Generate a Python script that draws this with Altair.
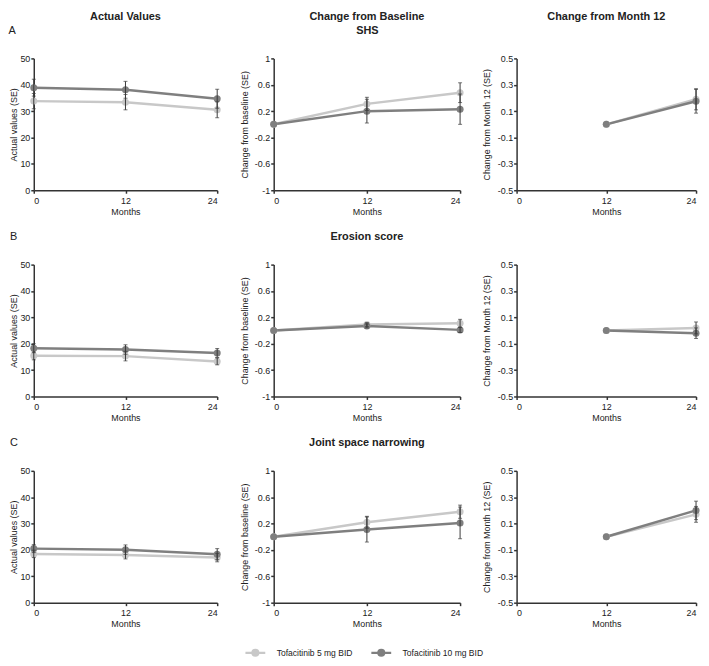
import altair as alt
import pandas as pd

# ---------------- data ----------------
months_all = [0, 12, 24]
months_m12 = [12, 24]
groups = ["Tofacitinib 5 mg BID", "Tofacitinib 10 mg BID"]
colors = ["#c8c8c8", "#7f7f7f"]

# SHS
shs_act_5 = [33.8, 33.4, 30.5]
shs_act_5_se = [2.9, 2.9, 3.0]
shs_act_10 = [38.9, 38.1, 34.7]
shs_act_10_se = [3.2, 3.2, 3.6]
shs_cfb_5 = [0.0, 0.31, 0.48]
shs_cfb_5_se = [0.0, 0.10, 0.15]
shs_cfb_10 = [0.0, 0.20, 0.23]
shs_cfb_10_se = [0.0, 0.18, 0.23]
shs_cfm_5 = [0.0, 0.19]
shs_cfm_5_se = [0.0, 0.08]
shs_cfm_10 = [0.0, 0.175]
shs_cfm_10_se = [0.0, 0.09]

# Erosion score
ero_act_5 = [15.4, 15.3, 13.3]
ero_act_5_se = [1.5, 1.8, 1.3]
ero_act_10 = [18.3, 17.8, 16.5]
ero_act_10_se = [1.7, 1.8, 1.7]
ero_cfb_5 = [0.0, 0.09, 0.11]
ero_cfb_5_se = [0.0, 0.03, 0.06]
ero_cfb_10 = [0.0, 0.07, 0.01]
ero_cfb_10_se = [0.0, 0.03, 0.04]
ero_cfm_5 = [0.0, 0.02]
ero_cfm_5_se = [0.0, 0.045]
ero_cfm_10 = [0.0, -0.02]
ero_cfm_10_se = [0.0, 0.04]

# Joint space narrowing
jsn_act_5 = [18.5, 18.1, 17.1]
jsn_act_5_se = [1.4, 1.5, 1.6]
jsn_act_10 = [20.5, 20.1, 18.4]
jsn_act_10_se = [1.5, 1.8, 2.1]
jsn_cfb_5 = [0.0, 0.22, 0.38]
jsn_cfb_5_se = [0.0, 0.09, 0.10]
jsn_cfb_10 = [0.0, 0.11, 0.21]
jsn_cfb_10_se = [0.0, 0.19, 0.24]
jsn_cfm_5 = [0.0, 0.17]
jsn_cfm_5_se = [0.0, 0.06]
jsn_cfm_10 = [0.0, 0.20]
jsn_cfm_10_se = [0.0, 0.07]

x_ticks = [0, 12, 24]
act_ticks = [0, 10, 20, 30, 40, 50]
cfb_ticks = [-1, -0.6, -0.2, 0.2, 0.6, 1]
cfm_ticks = [-0.5, -0.3, -0.1, 0.1, 0.3, 0.5]

# ---------------- style ----------------
FONT = "Liberation Sans"
ERR = "#3a3a3a"
TXT = "#222222"
W = [185, 188, 181]
H = 133
TITLE_PAD = [1, 5, 6]

LEGEND = alt.Legend(
    title=None,
    orient="none",
    legendX=212,
    legendY=588,
    direction="horizontal",
    padding=0,
    symbolType="M-1,0L1,0M-0.3,0A0.3,0.3,0,1,0,0.3,0A0.3,0.3,0,1,0,-0.3,0Z",
    symbolSize=400,
    symbolStrokeWidth=2.2,
    symbolOpacity=1,
    labelFont=FONT,
    labelFontSize=8.6,
    labelColor=TXT,
    labelOffset=10,
    columnPadding=14,
)


def make_df(xs, v5, s5, v10, s10):
    rows = []
    for g, vals, ses in ((groups[0], v5, s5), (groups[1], v10, s10)):
        for m, v, s in zip(xs, vals, ses):
            rows.append({"month": m, "value": v, "se": s,
                         "lo": v - s, "hi": v + s, "group": g})
    return pd.DataFrame(rows)


def panel(col, xs, v5, s5, v10, s10, ydom, yticks, ytitle,
          title=None, top_title=None, top_x=0, top_align="center"):
    df = make_df(xs, v5, s5, v10, s10)
    xscale = alt.Scale(domain=[0, 24], nice=False, zero=False)
    yscale = alt.Scale(domain=ydom, nice=False, zero=False)
    xaxis = alt.Axis(values=x_ticks, title="Months")
    yaxis = alt.Axis(values=yticks, title=ytitle,
                     labelExpr="'' + datum.value",
                     titlePadding=TITLE_PAD[col])
    color = alt.Color("group:N", scale=alt.Scale(domain=groups, range=colors),
                      legend=LEGEND)
    base = alt.Chart(df)
    line = base.mark_line(strokeWidth=2.5).encode(
        x=alt.X("month:Q", scale=xscale, axis=xaxis),
        y=alt.Y("value:Q", scale=yscale, axis=yaxis),
        color=color,
    )
    if top_title is not None:
        top_axis = alt.Axis(orient="top", domain=False, ticks=False, labels=False,
                            grid=False, title=top_title, titleX=top_x, titleY=-25,
                            titleAlign=top_align, titleBaseline="alphabetic",
                            titleAngle=0, titleFontSize=11,
                            titleFontWeight="normal" if top_align == "left" else "bold",
                            titleColor=TXT)
    else:
        top_axis = None
    pts = base.mark_point(filled=True, size=50, opacity=1).encode(
        x=alt.X("month:Q", scale=xscale, axis=top_axis),
        y=alt.Y("value:Q", scale=yscale, axis=yaxis),
        color=color,
    )
    eb = base.transform_filter("datum.se > 0")
    rule = eb.mark_rule(color=ERR, strokeWidth=1).encode(
        x=alt.X("month:Q", scale=xscale, axis=None),
        y=alt.Y("lo:Q", scale=yscale, axis=yaxis),
        y2="hi:Q",
    )
    cap_lo = eb.mark_tick(color=ERR, orient="horizontal", size=4, thickness=1).encode(
        x=alt.X("month:Q", scale=xscale, axis=None),
        y=alt.Y("lo:Q", scale=yscale, axis=yaxis),
    )
    cap_hi = eb.mark_tick(color=ERR, orient="horizontal", size=4, thickness=1).encode(
        x=alt.X("month:Q", scale=xscale, axis=None),
        y=alt.Y("hi:Q", scale=yscale, axis=yaxis),
    )
    ch = alt.layer(line, pts, rule, cap_lo, cap_hi).resolve_axis(x="independent")
    if title is not None:
        ch = ch.properties(width=W[col], height=H, title=title)
    else:
        ch = ch.properties(width=W[col], height=H)
    return ch


def col_title(text):
    return alt.TitleParams(text=text, anchor="middle", frame="group", offset=3,
                           fontSize=11, fontWeight="bold", font=FONT, color=TXT)


def row_letter(text):
    return alt.TitleParams(text=text, anchor="start", frame="bounds", offset=19,
                           fontSize=11, fontWeight="normal", font=FONT, color=TXT)


def row_name(text):
    return alt.TitleParams(text=text, anchor="middle", frame="group", offset=19,
                           fontSize=11, fontWeight="bold", font=FONT, color=TXT)


ACT_T = "Actual values (SE)"
CFB_T = "Change from baseline (SE)"
CFM_T = "Change from Month 12 (SE)"

panels = [
    panel(0, months_all, shs_act_5, shs_act_5_se, shs_act_10, shs_act_10_se,
          [0, 50], act_ticks, ACT_T, title=col_title("Actual Values"),
          top_title="A", top_x=-26, top_align="left"),
    panel(1, months_all, shs_cfb_5, shs_cfb_5_se, shs_cfb_10, shs_cfb_10_se,
          [-1, 1], cfb_ticks, CFB_T, title=col_title("Change from Baseline"),
          top_title="SHS", top_x=W[1] / 2, top_align="center"),
    panel(2, months_m12, shs_cfm_5, shs_cfm_5_se, shs_cfm_10, shs_cfm_10_se,
          [-0.5, 0.5], cfm_ticks, CFM_T, title=col_title("Change from Month 12"),
          top_title=" ", top_x=W[2] / 2, top_align="center"),
    panel(0, months_all, ero_act_5, ero_act_5_se, ero_act_10, ero_act_10_se,
          [0, 50], act_ticks, ACT_T, title=row_letter("B")),
    panel(1, months_all, ero_cfb_5, ero_cfb_5_se, ero_cfb_10, ero_cfb_10_se,
          [-1, 1], cfb_ticks, CFB_T, title=row_name("Erosion score")),
    panel(2, months_m12, ero_cfm_5, ero_cfm_5_se, ero_cfm_10, ero_cfm_10_se,
          [-0.5, 0.5], cfm_ticks, CFM_T),
    panel(0, months_all, jsn_act_5, jsn_act_5_se, jsn_act_10, jsn_act_10_se,
          [0, 50], act_ticks, ACT_T, title=row_letter("C")),
    panel(1, months_all, jsn_cfb_5, jsn_cfb_5_se, jsn_cfb_10, jsn_cfb_10_se,
          [-1, 1], cfb_ticks, CFB_T, title=row_name("Joint space narrowing")),
    panel(2, months_m12, jsn_cfm_5, jsn_cfm_5_se, jsn_cfm_10, jsn_cfm_10_se,
          [-0.5, 0.5], cfm_ticks, CFM_T),
]

chart = alt.concat(
    *panels, columns=3, spacing={"row": 75, "column": 57},
    bounds="flush", align="each",
).properties(
    padding={"left": 0, "top": 0, "right": 0, "bottom": 0},
).configure(
    font=FONT,
).configure_view(
    stroke=None,
).configure_axis(
    grid=False,
    domainColor="#333333",
    domainWidth=1.5,
    tickColor="#333333",
    tickWidth=1.5,
    tickSize=3,
    labelFont=FONT,
    labelFontSize=9,
    labelColor=TXT,
    labelPadding=1,
    titleFont=FONT,
    titleFontSize=9,
    titleFontWeight="normal",
    titleColor=TXT,
).configure_axisX(
    labelPadding=3,
    titlePadding=2,
)

chart.save("out.html", embed_options={"renderer": "svg", "actions": False})
